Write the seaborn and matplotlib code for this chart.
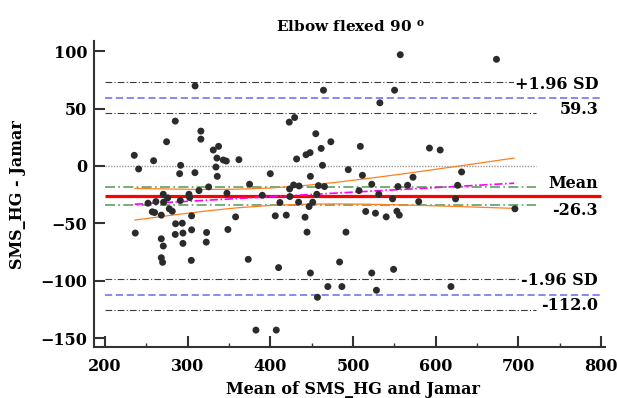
import matplotlib
matplotlib.use("Agg")
import matplotlib.pyplot as plt
import seaborn as sns
import pandas as pd
from matplotlib.ticker import MultipleLocator

# ---- data ----
mean_x = [309, 285, 316, 316, 274.5, 235.4, 258.8, 240.7, 291.5, 290.3, 308.8, 331, 337.4,
          335.4, 343.1, 346.7, 362, 334.2, 335.8, 325.4, 313.7, 301.6, 270.5, 275.8, 261.6,
          252, 270.9, 291.1, 302.4, 347.5, 374.9, 390.3, 400, 428.2, 423.3, 423.7, 411.6,
          434.2, 431.8, 422.9, 429.4, 277.8, 281.4, 257.2, 260, 268.1, 304.8, 358, 406,
          419.3, 285.4, 293.5, 285, 294.3, 304.8, 322.9, 348.7, 236.6, 268.1, 270.5, 294.3,
          322.5, 268.1, 269.7, 304.4, 373.3, 410, 382.6, 407.2,
          557.2, 673.6, 464.3, 550.3, 532.5, 455, 473.2, 461.5, 443.2, 448.1, 508.9, 592.5,
          605.5, 463.1, 494.3, 448.5, 511.4, 572.6, 631.4, 522.7, 554.4, 566.1, 626.6, 458.2,
          465.5, 434.7, 451.3, 446.9, 456.2, 507.3, 531.2, 547.9, 579.5, 624.1, 695.9, 515.4,
          527.2, 540.2, 553.1, 556, 442, 444.4, 491.5, 483.8, 448.5, 522.7, 549.1, 469.6,
          486.6, 618.5, 457, 528.4]
diff_y = [69.7, 39.1, 30.4, 23.4, 21.1, 9.3, 4.6, -2.6, 0.6, -6.7, -5.8, 13.9, 17.1,
          6.9, 5.2, 4.3, 5.5, -0.9, -9.0, -18.2, -21.4, -24.6, -24.6, -27.8, -31.0,
          -32.4, -31.5, -30.1, -27.5, -23.7, -15.9, -25.5, -6.7, -16.5, -20.0, -26.6, -31.8,
          -31.5, 6.1, 38.2, 42.2, -37.3, -39.4, -39.9, -40.5, -42.8, -43.4, -44.3, -43.4,
          -42.8, -50.3, -49.8, -59.6, -58.4, -55.6, -57.9, -55.3, -58.4, -63.4, -69.7, -67.4,
          -66.3, -79.9, -83.9, -82.2, -81.3, -88.5, -142.9, -142.9,
          96.9, 92.9, 66.0, 66.0, 55.0, 28.1, 21.1, 15.3, 9.8, 11.6, 17.1, 15.6,
          13.9, 0.6, -3.2, -9.0, -8.1, -9.8, -5.2, -15.9, -17.9, -16.8, -16.8, -17.1,
          -17.9, -17.4, -31.5, -35.3, -24.6, -21.4, -24.6, -28.6, -31.0, -28.6, -37.3, -39.6,
          -41.1, -44.3, -39.4, -42.8, -44.6, -57.6, -57.6, -83.6, -93.2, -93.2, -90.0, -105.0,
          -105.0, -105.0, -114.3, -108.2]

mean_diff = -26.3
mean_ci = [-18.4, -34.2]
upper_loa = 59.3
upper_loa_ci = [72.8, 45.8]
lower_loa = -112.0
lower_loa_ci = [-98.5, -125.5]

reg_x = [236, 695]
reg_y = [-33.3, -15.0]
band_x = [236, 280, 320, 360, 400, 440, 480, 520, 560, 600, 640, 695]
band_upper = [-19.5, -20.1, -20.4, -20.2, -19.2, -17.1, -14.2, -10.7, -6.9, -2.9, 1.2, 6.9]
band_lower = [-47.1, -42.9, -39.4, -36.4, -34.4, -33.3, -33.0, -33.3, -33.9, -34.7, -35.6, -36.9]

x_ticks = [200, 300, 400, 500, 600, 700, 800]
y_ticks = [-150, -100, -50, 0, 50, 100]

# ---- style ----
sns.set_theme(style="white")
plt.rcParams["font.family"] = ["DejaVu Serif", "Liberation Serif"]
plt.rcParams["font.weight"] = "bold"
plt.rcParams["mathtext.fontset"] = "dejavuserif"
plt.rcParams["text.color"] = "black"
plt.rcParams["axes.labelcolor"] = "black"
plt.rcParams["xtick.color"] = "black"
plt.rcParams["ytick.color"] = "black"

FS = 11.5
W, H = 617, 398
fig = plt.figure(figsize=(W / 100, H / 100), dpi=100)
ax = fig.add_axes([94 / W, 1 - 347.2 / H, 511.1 / W, 305.8 / H])

df = pd.DataFrame({"mean": mean_x, "diff": diff_y})

x0, x_line_end, x1 = 200, 722, 800
# reference lines
ax.hlines(0, x0, x_line_end, colors="#9a9a9a", linestyles=(0, (1, 1)), lw=1.0, zorder=1)
for v in upper_loa_ci + lower_loa_ci:
    ax.hlines(v, x0, x_line_end, colors="#3a3a3a", linestyles=(0, (6, 2, 1, 2)), lw=0.8, zorder=1)
for v in [upper_loa, lower_loa]:
    ax.hlines(v, x0, x1, colors="#7f7ff5", linestyles=(0, (4, 2)), lw=1.3, zorder=1)
for v in mean_ci:
    ax.hlines(v, x0, x_line_end, colors="#5f9f5f", linestyles=(0, (6, 2, 1, 2)), lw=1.2, zorder=1)
ax.hlines(mean_diff, x0, x1, colors="#ff0000", lw=2.3, zorder=2)

# regression line and its confidence curves
sns.lineplot(x=band_x, y=band_upper, color="#ff7f1e", lw=0.9, ax=ax, zorder=2, sort=False)
sns.lineplot(x=band_x, y=band_lower, color="#ff7f1e", lw=0.9, ax=ax, zorder=2, sort=False)
sns.lineplot(x=reg_x, y=reg_y, color="#ff00ff", lw=1.2, ax=ax, zorder=3, sort=False,
             linestyle=(0, (5, 1.5, 1, 1.5)))

sns.scatterplot(data=df, x="mean", y="diff", color="#2b2b2b", s=25, edgecolor="none",
                linewidth=0, ax=ax, zorder=5)

ax.set_xlim(186.7, 805)
ax.set_ylim(-157.8, 108.5)
ax.set_xticks(x_ticks)
ax.set_yticks(y_ticks)
ax.xaxis.set_minor_locator(MultipleLocator(50))
ax.set_xlabel("")
ax.set_ylabel("")

for s in ["top", "right"]:
    ax.spines[s].set_visible(False)
for s in ["left", "bottom"]:
    ax.spines[s].set_linewidth(1.5)
    ax.spines[s].set_color("#333333")

ax.tick_params(axis="both", which="major", direction="in", length=8, width=1.5,
               color="#333333", labelsize=FS, labelcolor="black",
               bottom=True, left=True, top=False, right=False)
ax.tick_params(axis="x", which="major", pad=7.5)
ax.tick_params(axis="y", which="major", pad=5)
ax.tick_params(axis="x", which="minor", direction="in", length=3, width=1.0,
               color="#333333", bottom=True)
ax.tick_params(axis="y", which="minor", left=False)
for lab in ax.get_xticklabels() + ax.get_yticklabels():
    lab.set_fontweight("bold")

bb = dict(facecolor="white", edgecolor="none", pad=0.5)
tx = 796.5
ax.text(tx, 70.9, "+1.96 SD", ha="right", va="center", fontsize=FS, fontweight="bold", bbox=bb, zorder=6)
ax.text(tx, 49.5, f"{upper_loa:.1f}", ha="right", va="center", fontsize=FS, fontweight="bold", zorder=6)
ax.text(tx, -15.0, "Mean", ha="right", va="center", fontsize=FS, fontweight="bold", zorder=6)
ax.text(tx, -39.1, f"{mean_diff:.1f}", ha="right", va="center", fontsize=FS, fontweight="bold", zorder=6)
ax.text(tx, -99.8, "-1.96 SD", ha="right", va="center", fontsize=FS, fontweight="bold", bbox=bb, zorder=6)
ax.text(tx, -121.5, f"{lower_loa:.1f}", ha="right", va="center", fontsize=FS, fontweight="bold", zorder=6)

fig.text(350 / W, 1 - 31.5 / H, r"Elbow flexed 90 $^{\mathbf{o}}$", ha="center", va="baseline",
         fontsize=11, fontweight="bold")
fig.text(353 / W, 1 - 389 / H, "Mean of SMS_HG and Jamar", ha="center", va="center", fontsize=FS, fontweight="bold")
fig.text(18 / W, 1 - 195 / H, "SMS_HG - Jamar", ha="center", va="center", rotation=90, fontsize=FS, fontweight="bold")

fig.savefig("out.png", dpi=100)
